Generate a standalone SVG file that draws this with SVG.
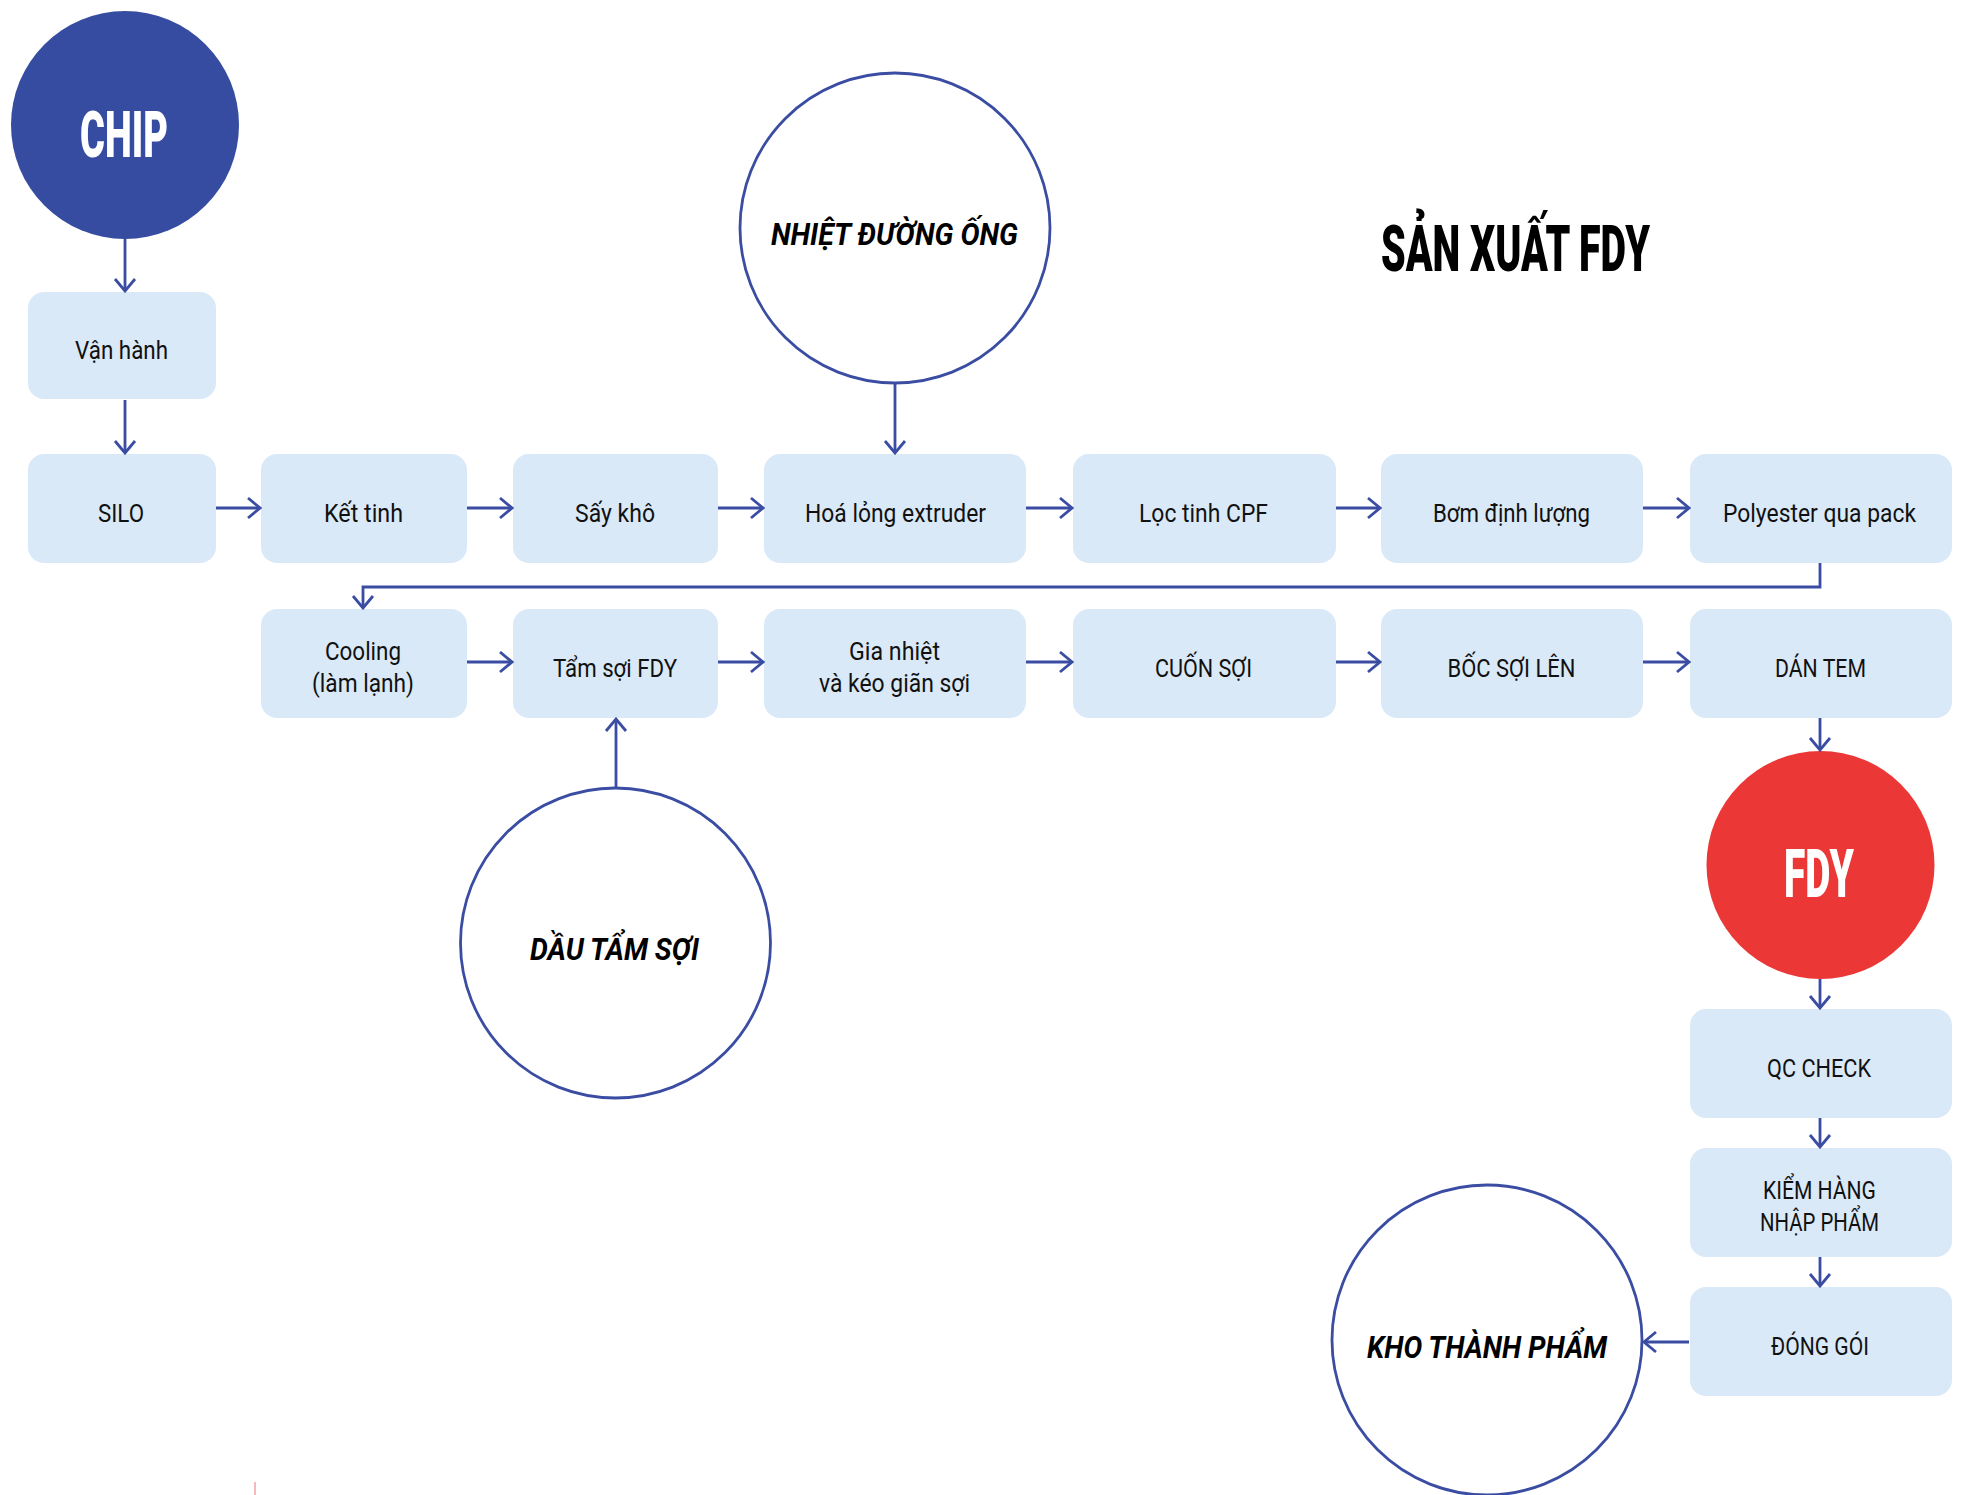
<svg xmlns="http://www.w3.org/2000/svg" width="1963" height="1495" viewBox="0 0 1963 1495">
<defs>
<style>
.box{fill:#DAE9F8}
.lbl{font-family:Roboto,"Liberation Sans",sans-serif;font-size:26.5px;fill:#111;text-anchor:middle}
.big{font-family:Roboto,"Liberation Sans",sans-serif;font-weight:900;text-anchor:middle}
.cl{font-family:Roboto,"Liberation Sans",sans-serif;font-weight:700;font-style:italic;font-size:32px;fill:#000;text-anchor:middle}
.ring{fill:#fff;stroke:#3A4DA3;stroke-width:2.8}
.con path{fill:none;stroke:#3A4DA3;stroke-width:2.8;marker-end:url(#a)}
</style>
<marker id="a" viewBox="-15 -12 17 24" refX="0" refY="0" markerWidth="17" markerHeight="24" markerUnits="userSpaceOnUse" orient="auto">
<path d="M-12,-10 L0,0 L-12,10" fill="none" stroke="#3A4DA3" stroke-width="2.8"/>
</marker>
</defs>
<rect width="1963" height="1495" fill="#fff"/>

<g id="title"><text class="big" x="1515.5" y="271" font-size="65" textLength="269" lengthAdjust="spacingAndGlyphs" fill="#000">SẢN XUẤT FDY</text></g>

<g id="chip"><circle cx="125" cy="125" r="114" fill="#354CA1"/><text class="big" x="124" y="157" font-size="65" textLength="88" lengthAdjust="spacingAndGlyphs" fill="#fff">CHIP</text></g>
<g id="nhiet"><circle class="ring" cx="895" cy="228" r="155"/><text class="cl" x="894.5" y="245" textLength="247" lengthAdjust="spacingAndGlyphs">NHIỆT ĐƯỜNG ỐNG</text></g>
<g id="dau"><circle class="ring" cx="615.5" cy="943" r="155"/><text class="cl" x="614.5" y="960" font-size="33" textLength="169" lengthAdjust="spacingAndGlyphs">DẦU TẨM SỢI</text></g>
<g id="fdy"><circle cx="1820.5" cy="865" r="114" fill="#EC3737"/><text class="big" x="1819" y="897" font-size="66" textLength="70" lengthAdjust="spacingAndGlyphs" fill="#fff">FDY</text></g>
<g id="kho"><circle class="ring" cx="1487" cy="1340" r="155"/><text class="cl" x="1487" y="1358" textLength="240" lengthAdjust="spacingAndGlyphs">KHO THÀNH PHẨM</text></g>

<g id="vanhanh"><rect class="box" x="28" y="292" width="188" height="107" rx="16"/><text class="lbl" x="121.5" y="359" textLength="93" lengthAdjust="spacingAndGlyphs">Vận hành</text></g>
<g id="silo"><rect class="box" x="28" y="454" width="188" height="109" rx="16"/><text class="lbl" x="121" y="522" textLength="46" lengthAdjust="spacingAndGlyphs">SILO</text></g>
<g id="kettinh"><rect class="box" x="261" y="454" width="206" height="109" rx="16"/><text class="lbl" x="363.5" y="522" textLength="79" lengthAdjust="spacingAndGlyphs">Kết tinh</text></g>
<g id="saykho"><rect class="box" x="513" y="454" width="205" height="109" rx="16"/><text class="lbl" x="615" y="522" textLength="80" lengthAdjust="spacingAndGlyphs">Sấy khô</text></g>
<g id="hoalong"><rect class="box" x="764" y="454" width="262" height="109" rx="16"/><text class="lbl" x="895.5" y="522" textLength="181" lengthAdjust="spacingAndGlyphs">Hoá lỏng extruder</text></g>
<g id="loctinh"><rect class="box" x="1073" y="454" width="263" height="109" rx="16"/><text class="lbl" x="1203.5" y="522" textLength="129" lengthAdjust="spacingAndGlyphs">Lọc tinh CPF</text></g>
<g id="bom"><rect class="box" x="1381" y="454" width="262" height="109" rx="16"/><text class="lbl" x="1511.5" y="522" textLength="157" lengthAdjust="spacingAndGlyphs">Bơm định lượng</text></g>
<g id="polyester"><rect class="box" x="1690" y="454" width="262" height="109" rx="16"/><text class="lbl" x="1819.5" y="522" textLength="193" lengthAdjust="spacingAndGlyphs">Polyester qua pack</text></g>

<g id="cooling"><rect class="box" x="261" y="609" width="206" height="109" rx="16"/><text class="lbl" x="363" y="660" textLength="76" lengthAdjust="spacingAndGlyphs">Cooling</text><text class="lbl" x="363" y="692" textLength="102" lengthAdjust="spacingAndGlyphs">(làm lạnh)</text></g>
<g id="tamsoi"><rect class="box" x="513" y="609" width="205" height="109" rx="16"/><text class="lbl" x="615" y="677" textLength="124" lengthAdjust="spacingAndGlyphs">Tẩm sợi FDY</text></g>
<g id="gianhiet"><rect class="box" x="764" y="609" width="262" height="109" rx="16"/><text class="lbl" x="894.5" y="660" textLength="91" lengthAdjust="spacingAndGlyphs">Gia nhiệt</text><text class="lbl" x="894.5" y="692" textLength="151" lengthAdjust="spacingAndGlyphs">và kéo giãn sợi</text></g>
<g id="cuonsoi"><rect class="box" x="1073" y="609" width="263" height="109" rx="16"/><text class="lbl" x="1203.5" y="677" textLength="97" lengthAdjust="spacingAndGlyphs">CUỐN SỢI</text></g>
<g id="bocsoi"><rect class="box" x="1381" y="609" width="262" height="109" rx="16"/><text class="lbl" x="1511.5" y="677" textLength="128" lengthAdjust="spacingAndGlyphs">BỐC SỢI LÊN</text></g>
<g id="dantem"><rect class="box" x="1690" y="609" width="262" height="109" rx="16"/><text class="lbl" x="1820.5" y="677" textLength="91" lengthAdjust="spacingAndGlyphs">DÁN TEM</text></g>

<g id="qccheck"><rect class="box" x="1690" y="1009" width="262" height="109" rx="16"/><text class="lbl" x="1819" y="1077" textLength="104" lengthAdjust="spacingAndGlyphs">QC CHECK</text></g>
<g id="kiemhang"><rect class="box" x="1690" y="1148" width="262" height="109" rx="16"/><text class="lbl" x="1819.5" y="1199" textLength="113" lengthAdjust="spacingAndGlyphs">KIỂM HÀNG</text><text class="lbl" x="1819.5" y="1231" textLength="119" lengthAdjust="spacingAndGlyphs">NHẬP PHẨM</text></g>
<g id="donggoi"><rect class="box" x="1690" y="1287" width="262" height="109" rx="16"/><text class="lbl" x="1820" y="1355" textLength="98" lengthAdjust="spacingAndGlyphs">ĐÓNG GÓI</text></g>

<g id="connectors" class="con">
<path d="M125,239 V291"/>
<path d="M125,400 V453"/>
<path d="M216,508 H260"/>
<path d="M467,508 H512"/>
<path d="M718,508 H763"/>
<path d="M1026,508 H1072"/>
<path d="M1336,508 H1380"/>
<path d="M1643,508 H1689"/>
<path d="M1820,563 V587 H363 V608"/>
<path d="M467,662 H512"/>
<path d="M718,662 H763"/>
<path d="M1026,662 H1072"/>
<path d="M1336,662 H1380"/>
<path d="M1643,662 H1689"/>
<path d="M1820,718 V750"/>
<path d="M1820,979 V1008"/>
<path d="M1820,1118 V1147"/>
<path d="M1820,1257 V1286"/>
<path d="M1689,1342 H1644"/>
<path d="M895,383 V453"/>
<path d="M616,788 V719"/>
</g>
<line x1="255" y1="1482" x2="255" y2="1495" stroke="#F4A3A3" stroke-width="1.5"/>
</svg>
